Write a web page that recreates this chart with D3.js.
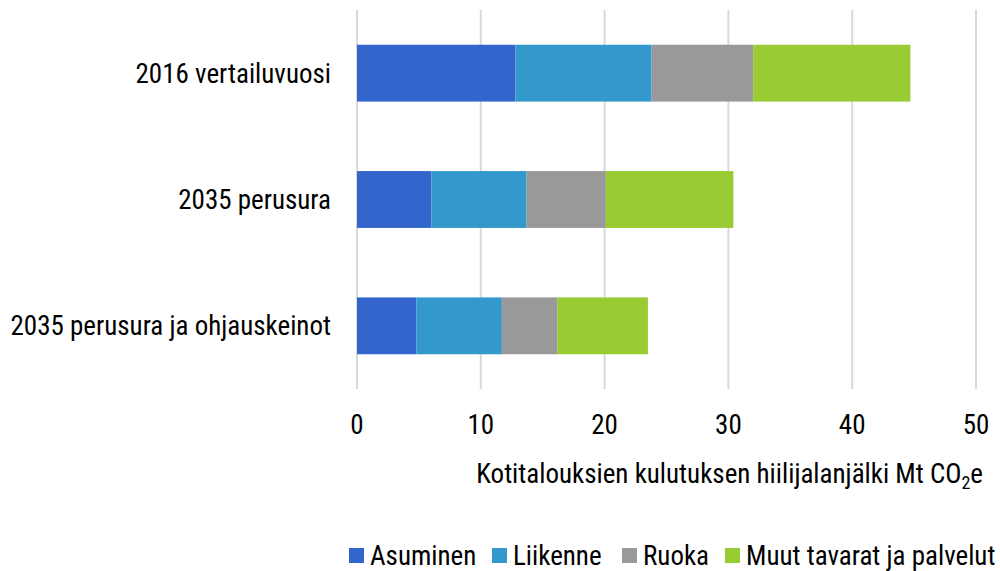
<!DOCTYPE html>
<html><head><meta charset="utf-8">
<script src="https://cdn.jsdelivr.net/npm/d3@7/dist/d3.min.js"></script>
<style>
body{margin:0;background:#fff;}
text{font-family:"Liberation Sans Narrow","Arial Narrow","Roboto Condensed",sans-serif;fill:#000;}
</style></head>
<body><svg id="c" width="1000" height="571"></svg>
<script>
const categories = ["2016 vertailuvuosi","2035 perusura","2035 perusura ja ohjauskeinot"];
const seriesNames = ["Asuminen","Liikenne","Ruoka","Muut tavarat ja palvelut"];
const colors = ["#3366cc","#3399cc","#999999","#99cc33"];
const asuminen = [12.8, 6.0, 4.8];
const liikenne = [11.0, 7.7, 6.9];
const ruoka = [8.2, 6.4, 4.5];
const muut = [12.7, 10.3, 7.3];
const xTicks = [0,10,20,30,40,50];
const axisTitle = "Kotitalouksien kulutuksen hiilijalanjälki Mt CO";

const rows = categories.map((c,i)=>({cat:c, Asuminen:asuminen[i], Liikenne:liikenne[i], Ruoka:ruoka[i], "Muut tavarat ja palvelut":muut[i]}));
const stack = d3.stack().keys(seriesNames)(rows);

const svg = d3.select("#c");
const x = d3.scaleLinear().domain([0,50]).range([357,976]);
const y = d3.scaleBand().domain(categories).range([10,389]).paddingInner(0.55).paddingOuter(0.275);

// grid
svg.append("g").selectAll("line").data(xTicks).join("line")
  .attr("x1",d=>x(d)).attr("x2",d=>x(d)).attr("y1",10).attr("y2",389)
  .attr("stroke","#d9d9d9").attr("stroke-width",2);

// bars
svg.append("g").selectAll("g").data(stack).join("g")
  .attr("fill",(d,i)=>colors[i])
  .selectAll("rect").data(d=>d).join("rect")
  .attr("x",d=>x(d[0])).attr("width",d=>x(d[1])-x(d[0]))
  .attr("y",d=>y(d.data.cat)).attr("height",y.bandwidth());

const fs = 27;
// category labels
svg.append("g").selectAll("text").data(categories).join("text")
  .attr("x",331).attr("y",d=>y(d)+y.bandwidth()/2).attr("dy","0.35em")
  .attr("text-anchor","end").attr("font-size",fs).text(d=>d);

// x tick labels
svg.append("g").selectAll("text").data(xTicks).join("text")
  .attr("x",d=>x(d)).attr("y",434).attr("text-anchor","middle")
  .attr("font-size",fs).text(d=>d);

// axis title
const t = svg.append("text").attr("x",983).attr("y",483).attr("text-anchor","end").attr("font-size",fs);
t.append("tspan").text(axisTitle);
t.append("tspan").attr("font-size",18).attr("dy",6).text("2");
t.append("tspan").attr("dy",-6).text("e");

// legend
const legX = [349,492,622,725];
const lg = svg.append("g").selectAll("g").data(seriesNames).join("g")
  .attr("transform",(d,i)=>`translate(${legX[i]},548)`);
lg.append("rect").attr("width",15).attr("height",15).attr("fill",(d,i)=>colors[i]);
lg.append("text").attr("x",21).attr("y",17).attr("font-size",fs).text(d=>d);
</script></body></html>
